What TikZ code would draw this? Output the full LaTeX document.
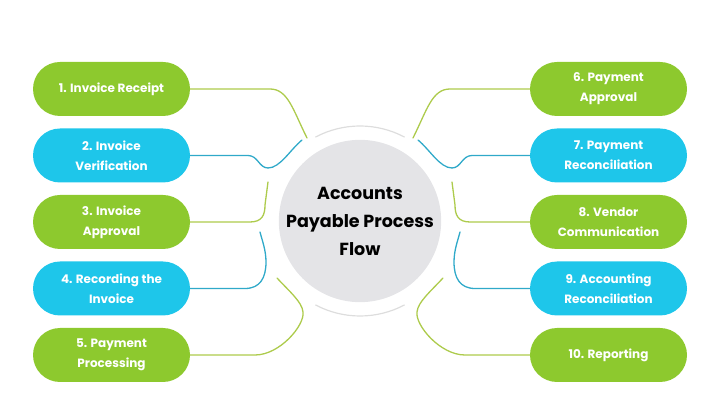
\documentclass[tikz,border=0pt]{standalone}
\usepackage{fontspec}
\setmainfont{Poppins}
\usepackage{tikz}
\usepackage{color}

\definecolor{pillgreen}{HTML}{8DC92E}
\definecolor{pillblue}{HTML}{1EC6EA}
\definecolor{linegreen}{HTML}{ADCB4C}
\definecolor{lineblue}{HTML}{2FA9C9}
\definecolor{hubgrey}{HTML}{E4E4E7}
\definecolor{ringgrey}{HTML}{DDDDDD}

\begin{document}
\begin{tikzpicture}[x=1pt, y=1pt,
  pill/.style = {rectangle, rounded corners = 27pt, minimum width = 157pt, minimum height = 54pt, inner sep = 0pt, align = center, text = white, font = \bfseries\fontsize{12}{20}\selectfont},
  greenpill/.style = {pill, fill = pillgreen},
  bluepill/.style = {pill, fill = pillblue},
  gline/.style = {draw = linegreen, line width = 1.3pt, line cap = round},
  bline/.style = {draw = lineblue, line width = 1.3pt, line cap = round}]

\useasboundingbox (0,0) rectangle (720,404);

% centre
\node (hub) [circle, fill = hubgrey, minimum size = 162pt, inner sep = 0pt, align = center, font = \bfseries\fontsize{17.5}{28}\selectfont] at (360,183) {Accounts\\Payable Process\\Flow};
\draw [ringgrey, line width = 1.2pt] (360,183) ++(62:95) arc [start angle = 62, end angle = 118, radius = 95];
\draw [ringgrey, line width = 1.2pt] (360,183) ++(242:95) arc [start angle = 242, end angle = 298, radius = 95];

% left steps
\node (p1) [greenpill] at (111.5,315) {1. Invoice Receipt};
\node (p2) [bluepill] at (111.5,248.5) {2. Invoice\\Verification};
\node (p3) [greenpill] at (111.5,182) {3. Invoice\\Approval};
\node (p4) [bluepill] at (111.5,115.5) {4. Recording the\\Invoice};
\node (p5) [greenpill] at (111.5,49) {5. Payment\\Processing};

% right steps
\node (p6) [greenpill] at (608.5,315) {6. Payment\\Approval};
\node (p7) [bluepill] at (608.5,248.5) {7. Payment\\Reconciliation};
\node (p8) [greenpill] at (608.5,182) {8. Vendor\\Communication};
\node (p9) [bluepill] at (608.5,115.5) {9. Accounting\\Reconciliation};
\node (p10) [greenpill] at (608.5,49) {10. Reporting};

% free ends near the hub
\coordinate (e1) at (307,266);
\coordinate (e2) at (302,264);
\coordinate (e3) at (268,222);
\coordinate (e4) at (260,172);
\coordinate (e5) at (277,126);
\coordinate (e6) at (413,266);
\coordinate (e7) at (418,264);
\coordinate (e8) at (452,222);
\coordinate (e9) at (460,172);
\coordinate (e10) at (443,126);

\draw [gline] (p1.east) -- (270,315) .. controls (288,315) and (293,294) .. (e1);
\draw [bline] (p2.east) -- (248,248.5) .. controls (258,248.5) and (259,236) .. (268,236) .. controls (280,236) and (290,254) .. (e2);
\draw [gline] (p3.east) -- (250,182) .. controls (262,182) and (265,189) .. (265,199) -- (e3);
\draw [bline] (p4.east) -- (245,115.5) .. controls (260,115.5) and (266,126) .. (266,142) .. controls (266,154) and (262,164) .. (e4);
\draw [gline] (p5.east) -- (255,49) .. controls (280,49) and (305,79) .. (303,92) .. controls (302,102) and (290,112) .. (e5);

\draw [gline] (p6.west) -- (450,315) .. controls (432,315) and (427,294) .. (e6);
\draw [bline] (p7.west) -- (472,248.5) .. controls (462,248.5) and (461,236) .. (452,236) .. controls (440,236) and (430,254) .. (e7);
\draw [gline] (p8.west) -- (470,182) .. controls (458,182) and (455,189) .. (455,199) -- (e8);
\draw [bline] (p9.west) -- (475,115.5) .. controls (460,115.5) and (454,126) .. (454,142) .. controls (454,154) and (458,164) .. (e9);
\draw [gline] (p10.west) -- (465,49) .. controls (440,49) and (415,79) .. (417,92) .. controls (418,102) and (430,112) .. (e10);

\end{tikzpicture}
\end{document}
